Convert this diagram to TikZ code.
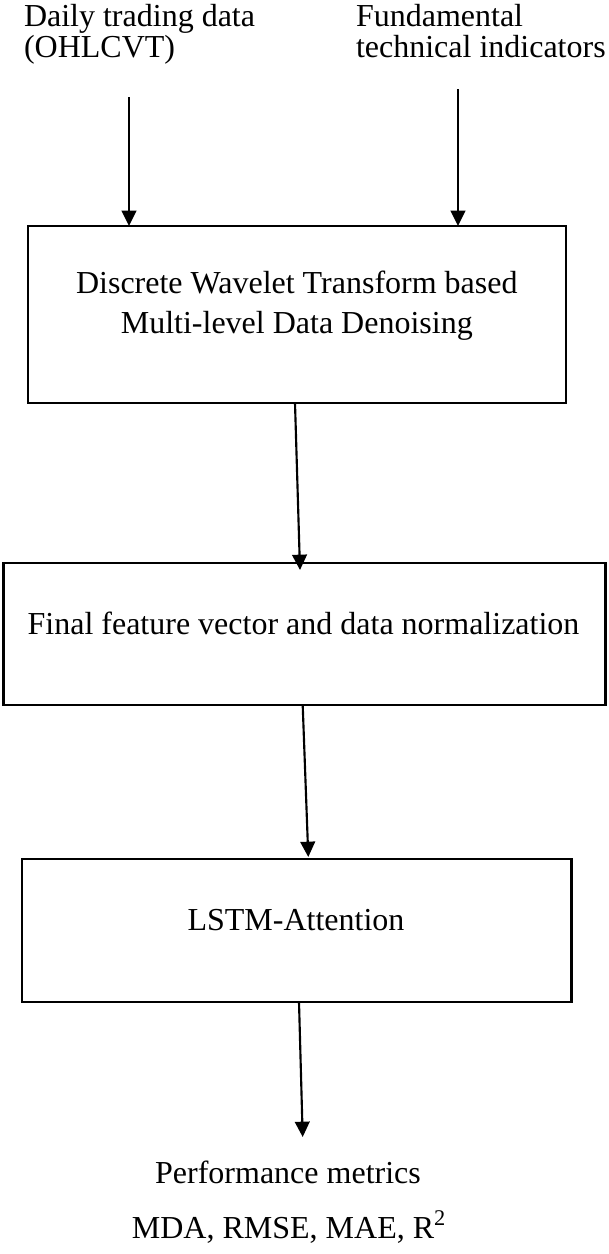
\documentclass[tikz,border=0pt]{standalone}
\usepackage{fontspec}
\setmainfont{Liberation Serif}
\usetikzlibrary{arrows.meta,calc}

\tikzset{
  stage/.style={draw=black, line width=1.8pt, fill=none, inner sep=0pt, outer sep=0pt},
  caption/.style={inner sep=0pt, outer sep=0pt, font=\fontsize{24pt}{30pt}\selectfont},
  flow/.style={line width=1.6pt, -{Triangle[width=11pt,length=11.5pt]}},
}

\begin{document}
\begin{tikzpicture}[x=0.75pt, y=-0.75pt]
  \useasboundingbox (0,0) rectangle (608,1254);

  % input descriptions
  \node[caption, anchor=base west] (daily) at (24,26.5)
    {\fontsize{24pt}{22.5pt}\selectfont\begin{tabular}[t]{@{}l@{}}Daily trading data\\(OHLCVT)\end{tabular}};
  \node[caption, anchor=base west] (fund) at (356,26.5)
    {\fontsize{24pt}{22.5pt}\selectfont\begin{tabular}[t]{@{}l@{}}Fundamental\\technical indicators\end{tabular}};

  % processing stages
  \node[stage, minimum width=538*0.75pt, minimum height=177*0.75pt] (dwt) at (296.7,314.5) {};
  \node[caption, anchor=base] (dwtlab) at (296.8,293)
    {\fontsize{24pt}{30pt}\selectfont\begin{tabular}[t]{@{}c@{}}Discrete Wavelet Transform based\\Multi-level Data Denoising\end{tabular}};

  \node[stage, minimum width=602*0.75pt, minimum height=142*0.75pt] (norm) at (304.6,634) {};
  \node[caption, anchor=base] (normlab) at (303.5,634) {Final feature vector and data normalization};

  \node[stage, minimum width=549.5*0.75pt, minimum height=143*0.75pt] (lstm) at (296.75,930.5) {};
  \node[caption, anchor=base] (lstmlab) at (296,930) {LSTM-Attention};

  % outputs
  \node[caption, anchor=base] (perf) at (288,1183) {Performance metrics};
  \node[caption, anchor=base] (metrics) at (289,1238) {MDA, RMSE, MAE, R\textsuperscript{2}};

  % connector end points
  \coordinate (in1) at (129,97);
  \coordinate (in2) at (458,89);
  \coordinate (o1) at ($(dwt.south west)+(267.3,0)$);
  \coordinate (e1) at ($(norm.north west)+(296.4,7)$);
  \coordinate (o2) at ($(norm.south west)+(299.1,0)$);
  \coordinate (e2) at ($(lstm.north west)+(286.3,-2)$);
  \coordinate (o3) at ($(lstm.south west)+(277,0)$);
  \coordinate (e3) at (302.7,1137);

  % connectors
  \draw[flow] (in1) -- (in1 |- dwt.north);
  \draw[flow] (in2) -- (in2 |- dwt.north);
  \draw[flow] (o1) -- (e1);
  \draw[flow] (o2) -- (e2);
  \draw[flow] (o3) -- (e3);
\end{tikzpicture}
\end{document}
